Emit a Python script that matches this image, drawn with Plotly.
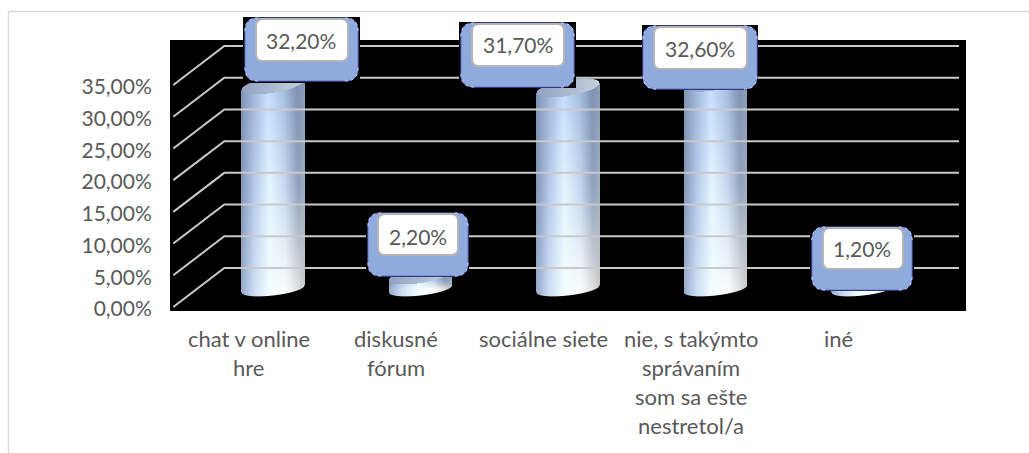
import numpy as np
import plotly.graph_objects as go

categories = ["chat v online<br>hre", "diskusné<br>fórum", "sociálne siete",
              "nie, s takýmto<br>správaním<br>som sa ešte<br>nestretol/a", "iné"]
values = [32.2, 2.2, 31.7, 32.6, 1.2]
tick_values = [0, 5, 10, 15, 20, 25, 30, 35]
tick_labels = ["0,00%", "5,00%", "10,00%", "15,00%", "20,00%", "25,00%", "30,00%", "35,00%"]

W, H = 1029, 453
L, R, T, B = 170, 966, 40, 311      # black plot area in pixels
SX = 147.5                          # px per category
SY = 6.343                          # px per percent
X0 = 248.5                          # px of first category
Y0 = 307.0                          # px of 0 %
FONT = "Lato"
TXT = "#595959"

x_range = [(L - X0) / SX, (R - X0) / SX]
y_range = [(Y0 - B) / SY, (Y0 - T) / SY]
px_x = lambda p: (p - L) / (R - L)
px_y = lambda p: (B - p) / (B - T)

fig = go.Figure()

# wall grid lines: front-left end, back-left corner, back-right end
for v in tick_values:
    fig.add_trace(go.Scatter(
        x=[(173.3 - X0) / SX, (224.3 - X0) / SX, (959 - X0) / SX],
        y=[v, v + 39 / SY, v + 39 / SY],
        mode="lines", line=dict(color="#c9c9c9", width=2),
        hoverinfo="skip", showlegend=False))


def mix(stops, t):
    ts = [s[0] for s in stops]
    return np.stack([np.interp(t, ts, [s[1][k] for s in stops]) for k in range(3)], axis=-1)


TOP = [(0, (126, 146, 178)), (.2, (160, 182, 220)), (.42, (198, 220, 255)),
       (.68, (165, 188, 224)), (.88, (126, 146, 178)), (1, (140, 156, 184))]
MID = [(0, (130, 150, 184)), (.2, (180, 202, 234)), (.45, (228, 246, 255)),
       (.7, (196, 214, 238)), (.9, (142, 160, 188)), (1, (160, 174, 194))]
BOT = [(0, (150, 170, 202)), (.2, (205, 222, 244)), (.45, (243, 254, 255)),
       (.7, (250, 252, 252)), (.9, (222, 222, 222)), (1, (200, 200, 200))]
CAP = [(0, (146, 162, 190)), (.5, (170, 186, 210)), (1, (198, 206, 218))]

BAR_W = 63.0
BASE_PX = 289.0


def cylinder(i, v):
    cx = X0 + SX * i + 24.5
    top_c = BASE_PX - v * SY
    y_hi = int(np.floor(top_c - 12))
    y_lo = int(np.ceil(BASE_PX + 9))
    xs = np.arange(int(cx - BAR_W / 2) - 1, int(cx + BAR_W / 2) + 2)
    ys = np.arange(y_hi, y_lo)
    px, py = np.meshgrid(xs + .5, ys + .5)
    u = (px - cx) / (BAR_W / 2)
    inside = np.abs(u) <= 1
    su = np.sqrt(np.clip(1 - u ** 2, 0, 1))
    c_t = top_c - 5 * u
    lower = BASE_PX - 3.5 * u + 6.5 * su
    upper = c_t - 8 * su
    front_top = c_t + 8 * su
    f = np.clip((py - top_c) / max(BASE_PX - top_c, 1), 0, 1)[..., None]
    t = np.clip((u + 1) / 2, 0, 1)
    a = mix(TOP, t)
    b = mix(MID, t)
    c = mix(BOT, t)
    col = np.where(f < .5, a + (b - a) * f * 2, b + (c - b) * (f - .5) * 2)
    cap = mix(CAP, t)
    col = np.where((py < front_top)[..., None], cap, col)
    alpha = np.clip(py - upper + .5, 0, 1) * np.clip(lower - py + .5, 0, 1) * inside
    img = np.concatenate([col, alpha[..., None]], axis=-1)
    img = np.round(img, 2)
    img = img[::-1]  # row 0 = lowest row, drawn from the value axis upward
    fig.add_trace(go.Image(
        z=img.tolist(), colormodel="rgba",
        x0=(xs[0] + .5 - X0) / SX, dx=1 / SX,
        y0=(Y0 - (ys[-1] + .5)) / SY, dy=1 / SY,
        hoverinfo="skip"))


for i, v in enumerate(values):
    cylinder(i, v)

# callouts: black backing, blue body, white inner box, text centre (pixels)
callouts = [
    ((243, 360, 17, 83), (245, 358, 18, 81), (256, 348, 19, 61), (301, 41)),
    ((366, 469, 211, 277), (368, 468, 213, 276), (378, 458, 214, 255), (418, 236)),
    ((459, 576, 22, 88), (461, 574, 23, 87), (472, 564, 24, 66), (518, 45)),
    ((642, 758, 25, 90), (643, 757, 26, 89), (654, 747, 27, 69), (700, 48)),
    ((810, 914, 226, 291), (812, 912, 227, 290), (823, 903, 228, 269), (862, 248)),
]


def rrect(x0, x1, y0, y1, r):
    a, b, c, d = px_x(x0), px_x(x1), px_y(y0), px_y(y1)
    rx, ry = r / (R - L), r / (B - T)
    return (f"M{a+rx},{c} L{b-rx},{c} Q{b},{c} {b},{c-ry} L{b},{d+ry} Q{b},{d} {b-rx},{d} "
            f"L{a+rx},{d} Q{a},{d} {a},{d+ry} L{a},{c-ry} Q{a},{c} {a+rx},{c} Z")


def corners(x0, x1, y0, y1, r):
    a, b, c, d = px_x(x0), px_x(x1), px_y(y0), px_y(y1)
    rx, ry = r / (R - L), r / (B - T)
    return (f"M{b-rx},{c} Q{b},{c} {b},{c-ry} M{b},{d+ry} Q{b},{d} {b-rx},{d} "
            f"M{a+rx},{d} Q{a},{d} {a},{d+ry} M{a},{c-ry} Q{a},{c} {a+rx},{c}")


shapes = []
annotations = []
for v, (bk, bl, wh, tc) in zip(values, callouts):
    shapes.append(dict(type="rect", xref="paper", yref="paper", layer="above",
                       x0=px_x(bk[0]), x1=px_x(bk[1]), y0=px_y(bk[3]), y1=px_y(bk[2]),
                       fillcolor="#000000", line=dict(width=0)))
    shapes.append(dict(type="path", xref="paper", yref="paper", layer="above",
                       path=rrect(*bl, 13), fillcolor="#8faadc",
                       line=dict(color="#6474dc", width=1)))
    shapes.append(dict(type="path", xref="paper", yref="paper", layer="above",
                       path=corners(*bl, 13), line=dict(color="#e4e8fa", width=1, dash="dot")))
    shapes.append(dict(type="path", xref="paper", yref="paper", layer="above",
                       path=rrect(*wh, 7), fillcolor="#ffffff",
                       line=dict(color="#b5b5b5", width=2)))
    annotations.append(dict(xref="paper", yref="paper", x=px_x(tc[0]), y=px_y(tc[1]),
                            xanchor="center", yanchor="middle",
                            text=f"{v:.2f}".replace(".", ",") + "%", showarrow=False,
                            font=dict(family=FONT, size=21, color="#595959")))

# outer frame (left and top only are visible)
shapes.append(dict(type="line", xref="paper", yref="paper", layer="below",
                   x0=px_x(8.5), x1=px_x(1029), y0=px_y(11.5), y1=px_y(11.5),
                   line=dict(color="#d9d9d9", width=1.5)))
shapes.append(dict(type="line", xref="paper", yref="paper", layer="below",
                   x0=px_x(8.5), x1=px_x(8.5), y0=px_y(453), y1=px_y(11.5),
                   line=dict(color="#d9d9d9", width=1.5)))

# category labels, one annotation per line to keep the 29 px line pitch
for i, cat in enumerate(categories):
    for k, line in enumerate(cat.split("<br>")):
        annotations.append(dict(xref="paper", yref="paper",
                                x=px_x(X0 + SX * i), y=px_y(338.5 + 29 * k),
                                xanchor="center", yanchor="middle",
                                text=line, showarrow=False,
                                font=dict(family=FONT, size=22, color=TXT)))

fig.update_layout(
    width=W, height=H,
    margin=dict(l=L, r=W - R, t=T, b=H - B, pad=0),
    paper_bgcolor="#ffffff", plot_bgcolor="#000000",
    showlegend=False, shapes=shapes, annotations=annotations,
    xaxis=dict(range=x_range, showgrid=False, zeroline=False, showticklabels=False,
               ticks="", showline=False, autorange=False, constrain="range"),
    yaxis=dict(range=y_range, showgrid=False, zeroline=False, tickmode="array",
               tickvals=tick_values, ticktext=tick_labels, showline=False,
               ticks="outside", ticklen=13, tickcolor="rgba(0,0,0,0)", ticklabelshift=2,
               tickfont=dict(family=FONT, size=21, color=TXT), autorange=False,
               scaleanchor=False, constrain="range"),
)
fig.write_html("out.html", config=dict(displayModeBar=False),
               post_script="document.body.style.margin='0';document.body.style.overflow='hidden';")
